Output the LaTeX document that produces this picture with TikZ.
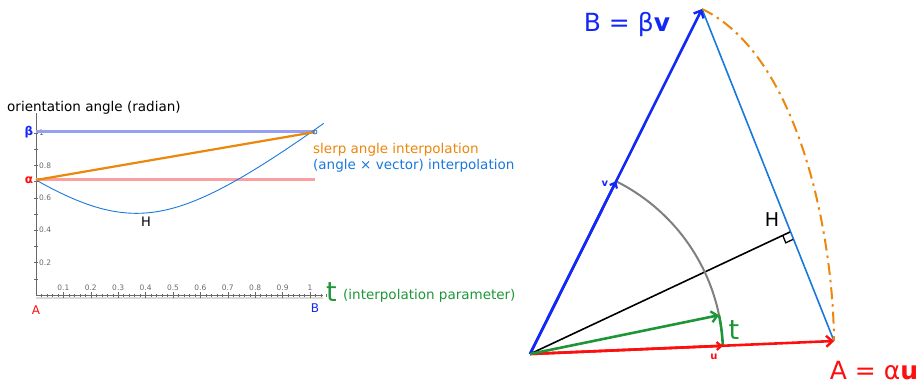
\documentclass[tikz,border=0pt]{standalone}
\usepackage{fontspec}
\setmainfont{DejaVu Sans}
\usetikzlibrary{arrows.meta,calc}
\definecolor{vblue}{RGB}{20,40,245}
\definecolor{ured}{RGB}{252,15,15}
\definecolor{tgreen}{RGB}{30,150,55}
\definecolor{sorange}{RGB}{235,135,10}
\definecolor{lblue}{RGB}{25,120,220}
\definecolor{betaline}{RGB}{150,160,240}
\definecolor{alphaline}{RGB}{250,160,160}
\definecolor{axgray}{RGB}{105,105,105}
\newcommand{\fs}[1]{\fontsize{#1}{#1}\selectfont}
\begin{document}
\begin{tikzpicture}[x=1pt,y=-1pt,
  lbl/.style={inner sep=0pt},
  ticklbl/.style={inner sep=0pt, font=\fs{7.5}, text=axgray},
  vec/.style={line width=2.6pt, -{Straight Barb[length=6pt,width=11pt,line width=2.4pt]}},
  smallvec/.style={line width=2.6pt, -{Straight Barb[length=4.5pt,width=8pt,line width=2.2pt]}},
  axis/.style={draw=axgray, line width=0.6pt}]
\useasboundingbox (0,0) rectangle (922,385);

% ---------------- left plot ----------------
\coordinate (org) at (36,295);
\coordinate (xend) at (323,295);
\coordinate (yend) at (36,113);
\draw[gray!30, line width=2pt] (36,298) -- (323,298);
\draw[axis] (org) -- (xend);
\draw[axis] (org) -- (yend);
\foreach \i in {1,...,53} {\draw[axgray, line width=0.4pt] ({36+5.48*\i},293.5) -- ({36+5.48*\i},296.5);}
\foreach \i in {1,...,10} {\draw[axgray, line width=0.5pt] ({36+27.4*\i},292) -- ({36+27.4*\i},298);}
\foreach \j in {1,...,10} {\draw[axgray, line width=0.4pt] (34,{295-16.2*\j}) -- (38,{295-16.2*\j});}
\foreach \v/\l in {1/0.1,2/0.2,3/0.3,4/0.4,5/0.5,6/0.6,7/0.7,8/0.8,9/0.9,10/1}
  {\node[ticklbl] (xt\v) at ({36+27.4*\v},288) {\l};}
\foreach \v/\l in {0.2/0.2,0.4/0.4,0.6/0.6,0.8/0.8}
  {\node[ticklbl, anchor=west] (yt\l) at (39,{295-162*\v}) {\l};}
\node[ticklbl, anchor=west] (yt1) at (39,133) {1};

\node[lbl, anchor=west, font=\fs{13.5}] (ylab) at (7,108) {orientation angle (radian)};

\coordinate (pa) at (36,180);
\coordinate (pb) at (315,132);
\draw[betaline, line width=3pt] (36,132) -- (pb);
\draw[alphaline, line width=3pt] (pa) -- (315,180);
\draw[lblue, line width=0.9pt] plot[domain=0:1.05, samples=80, smooth]
  ({36+274*\x},{295-162*sqrt((1-\x)*(1-\x)*0.5041+\x*\x+2*\x*(1-\x)*0.71*(-0.25))});
\draw[sorange, line width=2.2pt] (pa) -- (pb);
\draw[lblue, line width=0.8pt] (pb) circle[radius=2];

\node[lbl, text=vblue, font=\bfseries\fs{12}] (betalbl) at (29,132) {β};
\node[lbl, text=ured, font=\bfseries\fs{12}] (alphalbl) at (29,180) {α};
\node[lbl, font=\fs{13}] (Hplot) at (146,222) {H};
\node[lbl, text=ured, font=\fs{12}] (Alab) at (36,310) {A};
\node[lbl, text=vblue, font=\fs{12}] (Blab) at (315,308) {B};

\node[lbl, anchor=west, text=sorange, font=\fs{13.5}] (slerp) at (313,150) {slerp angle interpolation};
\node[lbl, anchor=west, text=lblue, font=\fs{13.5}] (avint) at (313,166) {(angle × vector) interpolation};
\node[lbl, anchor=base west, text=tgreen, font=\fs{27}] (tlab) at (326,301) {t};
\node[lbl, anchor=base west, text=tgreen, font=\fs{13.5}] (tparam) at (343,299) {(interpolation parameter)};

% ---------------- right diagram ----------------
\coordinate (O) at (530,354);
\coordinate (A) at (834,341);
\coordinate (B) at (702,9);
\coordinate (H) at (790,232);
\coordinate (u) at ($(O)+(-2.44:193)$);
\coordinate (v) at ($(O)+(-63.5:193)$);
\coordinate (tp) at ($(O)+(-11.6:193)$);

\draw[lblue, line width=1.6pt] (B) -- (A);
\draw[sorange, line width=2pt, dash pattern=on 12pt off 5pt on 2.5pt off 5pt]
  (B) .. controls (797,54) and (833,230) .. (A);
\draw[black, line width=1.6pt] (O) -- (H);
\draw[black, line width=1.3pt] ($(H)!8pt!(A)$) -- ($(H)!8pt!(A)+(H)!8pt!(O)-(H)$) -- ($(H)!8pt!(O)$);
\draw[gray, line width=2pt] (v) arc[start angle=-63.5, end angle=-11.6, radius=193];
\draw[tgreen, line width=2.6pt] (tp) arc[start angle=-11.6, end angle=-2.44, radius=193];
\draw[vec, ured] (O) -- (A);
\draw[vec, vblue] (O) -- (B);
\draw[smallvec, ured] (O) -- (u);
\draw[smallvec, vblue] (O) -- (v);
\draw[vec, tgreen] (O) -- (tp);

\node[lbl, text=vblue, font=\fs{25}] (Beq) at (627,25) {B = β\textbf{v}};
\node[lbl, text=ured, font=\fs{25}] (Aeq) at (874,371) {A = α\textbf{u}};
\node[lbl, font=\fs{19}] (Hlab) at (772,220) {H};
\node[lbl, text=tgreen, font=\fs{27}] (tlab2) at (734,330) {t};
\node[lbl, text=ured, font=\bfseries\fs{10}] (ulab) at (714,357) {u};
\node[lbl, text=vblue, font=\bfseries\fs{10}] (vlab) at (605,184) {v};
\end{tikzpicture}
\end{document}
